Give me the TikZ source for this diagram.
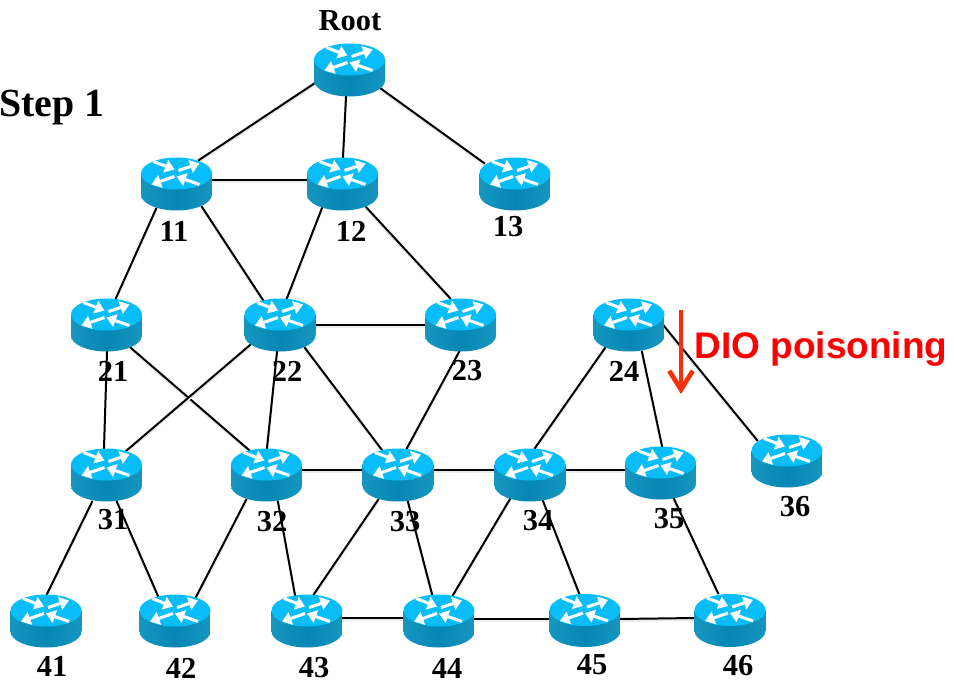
\documentclass[tikz,border=0pt]{standalone}
\usepackage{fontspec}
\setmainfont{Liberation Serif}
\newfontfamily\diofont{Liberation Sans}
\usetikzlibrary{arrows.meta,backgrounds}

\definecolor{routertop}{HTML}{08BDF8}
\definecolor{routerside}{HTML}{0587B4}
\definecolor{routeredge}{HTML}{1696BF}
\definecolor{poison}{HTML}{F5300A}

\newcommand{\routerglyph}{%
\begin{scope}[shift={(path picture bounding box.center)}]
\shade[left color=routeredge, right color=routeredge, middle color=routerside] (-35.5,-10) -- (-35.5,11) arc[start angle=180, end angle=0, x radius=35.5, y radius=16] -- (35.5,-10) -- cycle;
\fill[routertop] (0,-10) ellipse[x radius=35.5, y radius=16];
\draw[routerarrow] (2,-13) -- (23,-20);
\draw[routerarrow] (-23,-22) -- (-2,-14);
\draw[routerarrow] (-2,-7) -- (-25,1);
\draw[routerarrow] (23,1) -- (0,-7);
\end{scope}}

\tikzset{
routerarrow/.style={white, line width=2.6pt, -{Triangle[length=8pt,width=11pt]}},
routerbox/.style={rectangle, minimum width=71*0.03cm, minimum height=54*0.03cm, inner sep=0pt, path picture={\routerglyph}},
routername/.style={font=\fontsize{26}{26}\bfseries, inner sep=0pt},
link/.style={line width=1.7pt, black, shorten <=-1pt, shorten >=-1pt,
  preaction={draw=black!8, line width=2pt, transform canvas={yshift=-1.6pt}}}
}

\begin{document}
\begin{tikzpicture}[x=0.03cm,y=-0.03cm]

\clip (0,0) rectangle (954,683);

% routers
\foreach \name/\x/\y in {root/349.5/69.5,
  11/176.5/183.5,12/342.5/183.5,13/515/183.5,
  21/106.5/324.5,22/280/324.5,23/460.5/324.5,24/629/324.5,
  31/106.5/474.5,32/266.5/474.5,33/398/474.5,34/530/474.5,35/660.5/472.5,36/787/460.5,
  41/46/620.5,42/175/620.5,43/307/620.5,44/439/620.5,45/585/620,46/730/620}
  \node[routerbox] (r\name) at (\x,\y) {};

% links
\begin{scope}[on background layer]
\foreach \a/\ax/\ay/\b/\bx/\by in {root/-34.5/13.5/11/22.5/-23.5,
  root/-3.5/27.5/12/0.5/-26.5,
  root/30.5/18.5/13/-31/-20.5,
  11/35/-3.5/12/-34/-3.5,
  11/-20.5/25.5/21/9.5/-26.5,
  11/25.5/23.5/22/-17/-24.5,
  12/-20.5/24.5/22/7/-26.5,
  12/23.5/23.5/23/-10.5/-26.5,
  21/0.5/27.5/31/-2.5/-26.5,
  21/24.5/23.5/32/-17.5/-24.5,
  22/35/0.5/23/-34.5/0.5,
  22/-30/20.5/31/19.5/-23.5,
  22/-3/27.5/32/0.5/-26.5,
  22/25/23.5/33/-16/-24.5,
  23/-1.5/27.5/33/9/-26.5,
  24/-24/23.5/34/5/-26.5,
  24/13/27.5/35/1.5/-26.5,
  24/35/1.5/36/-30/-20.5,
  31/-14.5/27.5/41/1/-26.5,
  31/10.5/27.5/42/-17/-24.5,
  32/34.5/-4.5/33/-35/-4.5,
  33/35/-4.5/34/-35/-4.5,
  34/35/-4.5/35/-34.5/-2.5,
  32/-20.5/25.5/42/21/-23.5,
  32/11.5/27.5/43/-12/-25.5,
  33/-20/25.5/43/7/-26.5,
  33/10/27.5/44/-7/-26.5,
  34/-20/24.5/44/14/-25.5,
  34/13/26.5/45/-6/-27,
  35/13.5/26.5/46/-12/-27,
  43/35/-2.5/44/-35/-2.5,
  44/35/-1.5/45/-35/-1,
  45/35/-1/46/-35/-2}
  \draw[link] ([shift={(\ax,\ay)}]r\a.center) -- ([shift={(\bx,\by)}]r\b.center);
\end{scope}

% labels
\foreach \name/\x/\y in {11/174/231,12/351/231,13/508/227,
  21/113/371,22/287/371,23/467/371,24/624/371,
  31/113/520,32/272/522,33/405/522,34/538/521,35/669/519,36/795/507,
  41/52/666,42/181/668,43/314/668,44/447/668,45/592/665,46/738/666}
  \node[routername] (l\name) at (\x,\y) {\name};
\node[routername] (lroot) at (350,21) {Root};
\node[font=\fontsize{34}{34}\bfseries, inner sep=0pt] (stepname) at (52,108) {Step 1};

% poisoning
\node[font=\diofont\fontsize{31.6}{32}\bfseries, text=red, inner sep=0pt] (dio) at (821,349) {DIO poisoning};
\coordinate (diostart) at (681,310);
\coordinate (dioend) at (681,394);
\draw[poison, line width=4.2pt, -{Straight Barb[length=16pt,width=20pt,line width=4pt]}] (diostart) -- (dioend);

\end{tikzpicture}
\end{document}
